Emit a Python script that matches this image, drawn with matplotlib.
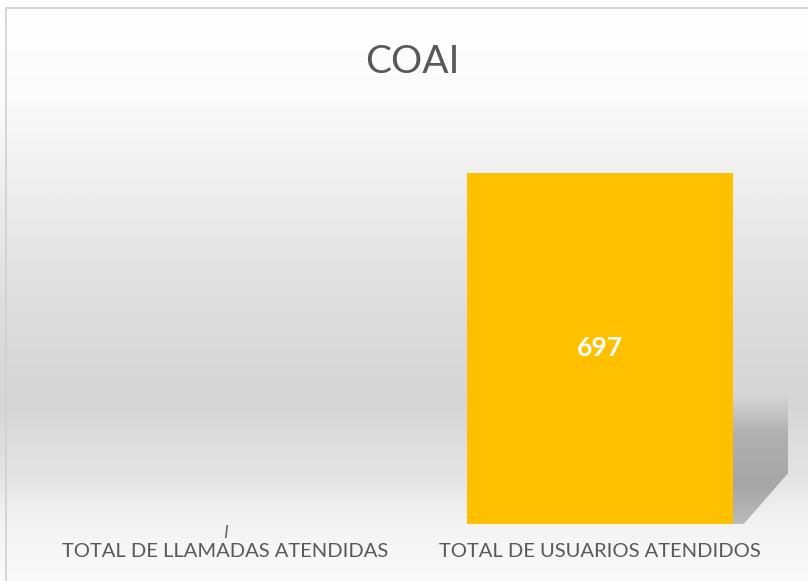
import numpy as np
import matplotlib
matplotlib.use("Agg")
import matplotlib.pyplot as plt
from matplotlib.colors import LinearSegmentedColormap
from matplotlib.patches import Rectangle, Polygon

plt.rcParams['font.family'] = ['Lato', 'DejaVu Sans']

categories = ['TOTAL DE LLAMADAS ATENDIDAS', 'TOTAL DE USUARIOS ATENDIDOS']
values = [0, 697]
bar_labels = ['', '697']
title = 'COAI'

fig = plt.figure(figsize=(8.08, 5.81), dpi=100)

# gradient background over the whole figure
bg = fig.add_axes([0, 0, 1, 1])
bg.set_axis_off()
stops = [(0.0, '#ffffff'), (0.17, '#fbfbfb'), (0.38, '#e9e9e9'),
         (0.55, '#dcdcdc'), (0.70, '#d6d6d6'), (0.82, '#e4e4e4'),
         (0.90, '#f3f3f3'), (1.0, '#fafafa')]
cmap = LinearSegmentedColormap.from_list('bg', stops)
grad = np.linspace(0, 1, 400).reshape(-1, 1)
bg.imshow(grad, aspect='auto', cmap=cmap, extent=[0, 1, 0, 1], origin='upper')
bg.add_patch(Rectangle((6 / 808, -0.01), 1.02, 1 - 8 / 581 + 0.01,
                       transform=bg.transAxes, fill=False,
                       edgecolor='#d0d0d0', linewidth=1.2))
bg.set_xlim(0, 1)
bg.set_ylim(0, 1)

ax = fig.add_axes([37.5 / 808, 1 - 524 / 581, 750 / 808, 403 / 581])
ax.patch.set_alpha(0)
x = np.arange(len(categories))
bars = ax.bar(x, values, width=0.707, color='#FFC000', zorder=3)
ax.set_xlim(-0.5, 1.5)
ax.set_ylim(0, 800)

# soft shadow at the lower right of the bar
b = bars[1]
x0 = b.get_x() + b.get_width()
x1 = x0 + 0.152
h = b.get_height()
shade = LinearSegmentedColormap.from_list('sh', [(0, (0.62, 0.62, 0.62, 0.0)),
                                                  (0.3, (0.62, 0.62, 0.62, 0.7)),
                                                  (0.7, (0.64, 0.64, 0.64, 0.95)),
                                                  (1, (0.68, 0.68, 0.68, 0.8))])
sh_top = h * 0.37
img = ax.imshow(np.linspace(1, 0, 100).reshape(-1, 1), aspect='auto', cmap=shade,
                extent=[x0, x1, 0, sh_top], origin='lower', zorder=2)
img.set_clip_path(Polygon([[x0, 0], [x0, sh_top], [x1, sh_top],
                           [x1, h * 0.15], [x0 + 0.03, 0]],
                          closed=True, transform=ax.transData))

for bar, lab in zip(bars, bar_labels):
    if lab:
        ax.text(bar.get_x() + bar.get_width() / 2, bar.get_height() / 2, lab,
                ha='center', va='center', color='white', fontsize=19,
                fontweight='bold', zorder=4)

# tiny label mark below the empty first bar
ax.text(x[0], -2, 'I', ha='center', va='top', fontsize=13, color='#6a6a6a',
        fontstyle='italic')

ax.set_xticks(x)
ax.set_xticklabels(categories, fontsize=14.5, color='#595959')
ax.tick_params(axis='x', length=0, pad=14)
ax.set_yticks([])
for s in ax.spines.values():
    s.set_visible(False)

fig.text(412 / 808, 1 - 62 / 581, title, ha='center', va='center',
         fontsize=28, color='#595959')

fig.savefig('out.png', dpi=100)
